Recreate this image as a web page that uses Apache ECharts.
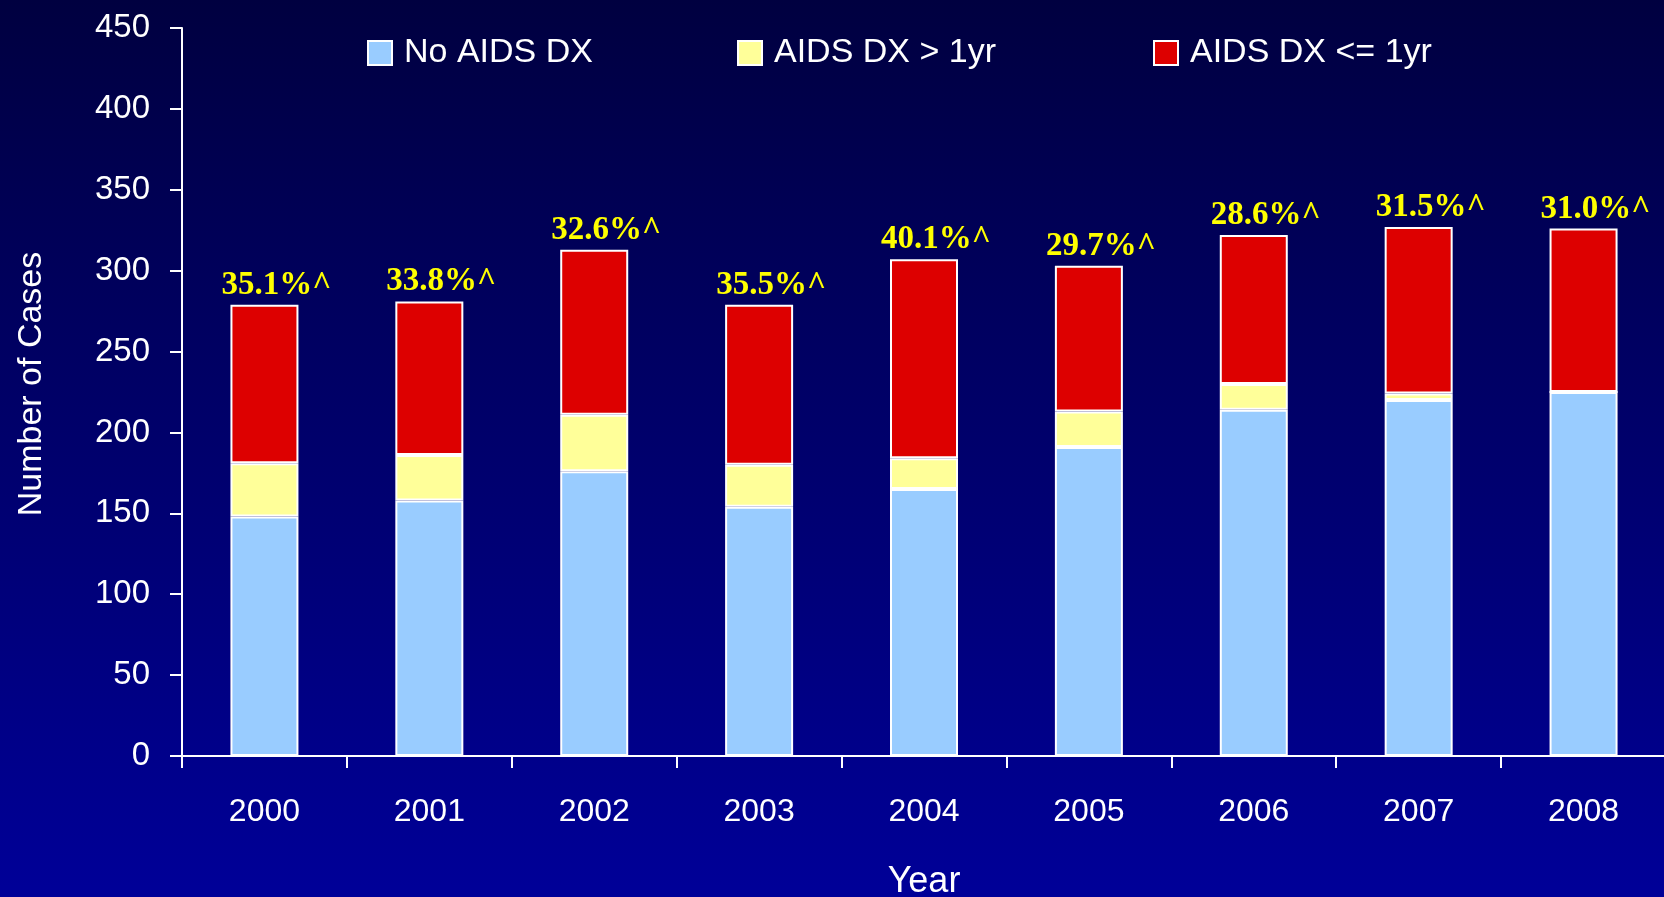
<!DOCTYPE html>
<html>
<head>
<meta charset="utf-8">
<title>Number of Cases by Year</title>
<script src="https://cdn.jsdelivr.net/npm/echarts@6/dist/echarts.min.js"></script>
<style>
  html, body { margin: 0; padding: 0; background: #000060; }
  #chart { width: 1664px; height: 897px; }
</style>
</head>
<body>
<div id="chart"></div>
<script>
// Diagnosis years on the x axis
const years = ['2000', '2001', '2002', '2003', '2004', '2005', '2006', '2007', '2008'];

// Case counts per year, stacked bottom to top
const noAidsDx = [148, 158, 176, 154, 165, 191, 214, 220, 225];
const aidsDxOver1yr = [33, 28, 35, 26, 19, 22, 16, 4, 0];
const aidsDxWithin1yr = [98, 95, 102, 99, 123, 90, 92, 103, 101];

// Share of AIDS diagnosed within one year, shown above each bar
const pctLabels = ['35.1%^', '33.8%^', '32.6%^', '35.5%^', '40.1%^', '29.7%^', '28.6%^', '31.5%^', '31.0%^'];

const seriesNames = ['No AIDS DX', 'AIDS DX > 1yr', 'AIDS DX <= 1yr'];
const seriesColors = ['#99CCFF', '#FFFF99', '#DD0000'];

const sansFont = "'Liberation Sans Narrow', 'Arial Narrow', 'Liberation Sans', Arial, sans-serif";
const serifFont = "'Liberation Serif', 'Times New Roman', serif";

const chart = echarts.init(document.getElementById('chart'), null, { renderer: 'canvas' });

function barSeries(name, data, color, extra) {
  return Object.assign({
    name: name,
    type: 'bar',
    stack: 'cases',
    barWidth: 68,
    data: data,
    itemStyle: { color: color, borderColor: '#FFFFFF', borderWidth: 2 },
    emphasis: { disabled: true }
  }, extra || {});
}

// One legend block per series so each entry sits at its own x position
function legendAt(name, left) {
  return {
    data: [name],
    left: left,
    top: 36,
    padding: 0,
    icon: 'rect',
    itemWidth: 24,
    itemHeight: 24,
    textStyle: { color: '#FFFFFF', fontSize: 34, fontFamily: sansFont, padding: [0, 0, 0, 7] },
    selectedMode: false
  };
}

chart.setOption({
  animation: false,
  backgroundColor: {
    type: 'linear', x: 0, y: 0, x2: 0, y2: 1,
    colorStops: [
      { offset: 0, color: '#000040' },
      { offset: 1, color: '#000098' }
    ]
  },
  color: seriesColors,
  legend: [
    legendAt(seriesNames[0], 367),
    legendAt(seriesNames[1], 737),
    legendAt(seriesNames[2], 1153)
  ],
  grid: { left: 182, right: -2, top: 28, bottom: 141, containLabel: false, outerBoundsMode: 'none' },
  xAxis: {
    type: 'category',
    data: years,
    boundaryGap: true,
    axisLine: { lineStyle: { color: '#FFFFFF', width: 2 } },
    axisTick: { show: true, length: 12, lineStyle: { color: '#FFFFFF', width: 2 } },
    axisLabel: { color: '#FFFFFF', fontSize: 32, fontFamily: sansFont, margin: 40 },
    name: 'Year',
    nameLocation: 'middle',
    nameGap: 108,
    nameTextStyle: { color: '#FFFFFF', fontSize: 36, fontFamily: sansFont }
  },
  yAxis: {
    type: 'value',
    min: 0,
    max: 450,
    interval: 50,
    splitLine: { show: false },
    axisLine: { show: true, lineStyle: { color: '#FFFFFF', width: 2 } },
    axisTick: { show: true, length: 12, lineStyle: { color: '#FFFFFF', width: 2 } },
    axisLabel: { color: '#FFFFFF', fontSize: 33, fontFamily: sansFont, margin: 32 }
  },
  graphic: [{
    type: 'text',
    x: 32,
    y: 384,
    rotation: Math.PI / 2,
    style: {
      text: 'Number of Cases',
      fill: '#FFFFFF',
      font: "34px 'Liberation Sans', Arial, sans-serif",
      align: 'center',
      verticalAlign: 'middle'
    }
  }],
  series: [
    barSeries(seriesNames[0], noAidsDx, seriesColors[0]),
    barSeries(seriesNames[1], aidsDxOver1yr, seriesColors[1]),
    barSeries(seriesNames[2], aidsDxWithin1yr, seriesColors[2], {
      label: {
        show: true,
        position: 'top',
        distance: 3,
        offset: [12, 0],
        color: '#FFFF00',
        fontFamily: serifFont,
        fontWeight: 'bold',
        fontSize: 33,
        formatter: function (p) { return pctLabels[p.dataIndex]; }
      }
    })
  ]
});
</script>
</body>
</html>
